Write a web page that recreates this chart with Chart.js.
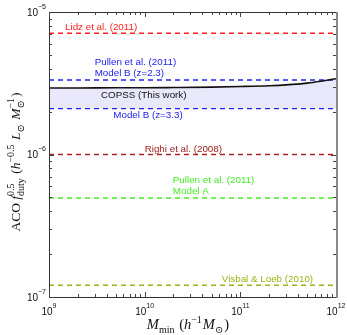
<!DOCTYPE html>
<html>
<head>
<meta charset="utf-8">
<script src="https://cdn.jsdelivr.net/npm/chart.js@4.4.0/dist/chart.umd.min.js"></script>
<style>
html,body{margin:0;padding:0;background:#fff;}
#wrap{width:347px;height:335px;}
</style>
</head>
<body>
<div id="wrap"><canvas id="myChart" width="347" height="335"></canvas></div>
<script>
// minimum halo mass grid and the COPSS constraint along it
var massGrid = [1e9, 2e9, 5e9, 1e10, 2e10, 5e10, 1e11, 2e11, 3e11, 5e11, 7e11, 1e12];
var copssValues = [2.93e-6, 2.93e-6, 2.94e-6, 2.94e-6, 2.95e-6, 2.97e-6, 3.0e-6, 3.04e-6, 3.08e-6, 3.17e-6, 3.27e-6, 3.4e-6];

// model predictions (flat lines)
var modelNames = ['Lidz et al. (2011)', 'Pullen B z=2.3', 'Model B (z=3.3)', 'Righi et al. (2008)', 'Pullen A', 'Visbal & Loeb (2010)'];
var modelValues = [7.1e-6, 3.33e-6, 2.1e-6, 1.0e-6, 4.95e-7, 1.21e-7];
var modelColors = ['#ff2020', '#2222ee', '#2222ee', '#b02222', '#44ee22', '#9cb414'];

// tick labels
var xTickValues = [1e9, 1e10, 1e11, 1e12];
var xTickExp = ['9', '10', '11', '12'];
var yTickValues = [1e-7, 1e-6, 1e-5];
var yTickExp = ['\u22127', '\u22126', '\u22125'];

// annotation texts: lines, colour, x (data) of left edge, offset in px from its line
var notes = [
  {lines: ['Lidz et al. (2011)'], color: '#ff2020', x: 1.47e9, y: 7.1e-6, dy: -6},
  {lines: ['Pullen et al. (2011)', 'Model B (z=2.3)'], color: '#2222ee', x: 3.0e9, y: 3.33e-6, dy: -18},
  {lines: ['COPSS (This work)'], color: '#111111', x: 3.5e9, y: 2.93e-6, dy: 7},
  {lines: ['Model B (z=3.3)'], color: '#2222ee', x: 4.7e9, y: 2.1e-6, dy: 7},
  {lines: ['Righi et al. (2008)'], color: '#a02020', x: 1.0e10, y: 1.0e-6, dy: -5},
  {lines: ['Pullen et al. (2011)', 'Model A'], color: '#44ee22', x: 1.97e10, y: 4.95e-7, dy: -18},
  {lines: ['Visbal & Loeb (2010)'], color: '#9cb414', x: 6.4e10, y: 1.21e-7, dy: -6}
];

function flat(v){ return massGrid.map(function(m){ return {x: m, y: v}; }); }

var datasets = [{
  label: 'COPSS',
  data: massGrid.map(function(m, i){ return {x: m, y: copssValues[i]}; }),
  borderColor: '#111',
  borderWidth: 1.6,
  pointRadius: 0,
  cubicInterpolationMode: 'monotone',
  fill: {target: 3},
  backgroundColor: 'rgba(232,232,250,1)'
}];
for (var i = 0; i < modelNames.length; i++) {
  datasets.push({
    label: modelNames[i],
    data: flat(modelValues[i]),
    borderColor: modelColors[i],
    borderWidth: 1.4,
    borderDash: [5, 4],
    pointRadius: 0,
    fill: false
  });
}

var serif = '"Liberation Serif", "DejaVu Serif", serif';
var sans = '"Liberation Sans", Arial, sans-serif';

// lays out (and optionally draws) a bit of math text, returns width
function mathText(ctx, parts, x, y, size, draw) {
  var small = Math.round(size * 0.72);
  var x0 = x;
  parts.forEach(function(p){
    if (p.sub !== undefined || p.sup !== undefined) {
      var w = 0;
      if (p.sup) {
        ctx.font = small + 'px ' + serif;
        if (draw) ctx.fillText(p.sup, x, y - size * 0.42);
        w = ctx.measureText(p.sup).width;
      }
      if (p.sub) {
        ctx.font = small + 'px ' + serif;
        if (draw) ctx.fillText(p.sub, x, y + size * 0.28);
        w = Math.max(w, ctx.measureText(p.sub).width);
      }
      x += w + 1;
    } else {
      ctx.font = (p.i ? 'italic ' : '') + size + 'px ' + serif;
      if (draw) ctx.fillText(p.t, x, y);
      x += ctx.measureText(p.t).width;
    }
  });
  return x - x0;
}

var xTitle = [{t: 'M', i: true}, {sub: 'min'}, {t: ' ('}, {t: 'h', i: true}, {sup: '\u22121'}, {t: 'M', i: true}, {sub: '\u2299'}, {t: ')'}];
var yTitle = [{t: 'ACO '}, {t: 'f', i: true}, {sup: '0.5', sub: 'duty'}, {t: ' ('}, {t: 'h', i: true}, {sup: '\u22120.5'}, {t: ' '}, {t: 'L', i: true}, {sub: '\u2299'}, {t: ' '}, {t: 'M', i: true}, {sub: '\u2299', sup: '\u22121'}, {t: ')'}];

function powLabel(ctx, exp, cx, cy, align) {
  ctx.font = '10px ' + sans;
  var w1 = ctx.measureText('10').width;
  ctx.font = '7px ' + sans;
  var w2 = ctx.measureText(exp).width;
  var left = align === 'right' ? cx - w1 - w2 : cx - (w1 + w2) / 2;
  ctx.textBaseline = 'middle';
  ctx.textAlign = 'left';
  ctx.font = '10px ' + sans;
  ctx.fillText('10', left, cy);
  ctx.font = '7px ' + sans;
  ctx.fillText(exp, left + w1, cy - 6);
}

var decor = {
  id: 'decor',
  afterDatasetsDraw: function(chart) {
    var ctx = chart.ctx, a = chart.chartArea, sx = chart.scales.x, sy = chart.scales.y;
    ctx.save();
    // annotation texts
    ctx.textBaseline = 'middle';
    ctx.textAlign = 'left';
    ctx.font = '9.8px ' + sans;
    notes.forEach(function(n){
      ctx.fillStyle = n.color;
      var px = sx.getPixelForValue(n.x), py = sy.getPixelForValue(n.y) + n.dy;
      n.lines.forEach(function(l, k){ ctx.fillText(l, px, py + k * 11); });
    });
    // frame
    ctx.strokeStyle = '#333';
    ctx.lineWidth = 1;
    ctx.beginPath();
    ctx.moveTo(a.right, a.top + 0.5); ctx.lineTo(a.left + 0.5, a.top + 0.5);
    ctx.lineTo(a.left + 0.5, a.bottom + 0.5); ctx.lineTo(a.right, a.bottom + 0.5);
    ctx.stroke();
    ctx.strokeStyle = '#8a8a8a';
    ctx.lineWidth = 2;
    ctx.beginPath(); ctx.moveTo(a.right + 1, a.top); ctx.lineTo(a.right + 1, a.bottom + 1); ctx.stroke();
    // inward ticks on all sides
    ctx.strokeStyle = '#444';
    ctx.lineWidth = 1;
    ctx.beginPath();
    for (var e = 9; e < 12; e++) {
      for (var m = 1; m < 10; m++) {
        var px = Math.round(sx.getPixelForValue(m * Math.pow(10, e))) + 0.5;
        var len = m === 1 ? 5 : 3;
        ctx.moveTo(px, a.bottom); ctx.lineTo(px, a.bottom - len);
        ctx.moveTo(px, a.top); ctx.lineTo(px, a.top + len);
      }
    }
    for (var e2 = -7; e2 < -5; e2++) {
      for (var m2 = 1; m2 < 10; m2++) {
        var py = Math.round(sy.getPixelForValue(m2 * Math.pow(10, e2))) + 0.5;
        var len2 = m2 === 1 ? 5 : 3;
        ctx.moveTo(a.left, py); ctx.lineTo(a.left + len2, py);
        ctx.moveTo(a.right, py); ctx.lineTo(a.right - len2, py);
      }
    }
    ctx.stroke();
    // tick labels
    ctx.fillStyle = '#111';
    xTickValues.forEach(function(v, k){ powLabel(ctx, xTickExp[k], sx.getPixelForValue(v), a.bottom + 15, 'center'); });
    yTickValues.forEach(function(v, k){ powLabel(ctx, yTickExp[k], a.left - 3, sy.getPixelForValue(v) + 1, 'right'); });
    // axis titles
    ctx.textBaseline = 'alphabetic';
    ctx.textAlign = 'left';
    var wx = mathText(ctx, xTitle, 0, 0, 14.5, false);
    mathText(ctx, xTitle, 188 - wx / 2, 329, 14.5, true);
    var wy = mathText(ctx, yTitle, 0, 0, 13.5, false);
    ctx.translate(20, 162);
    ctx.rotate(-Math.PI / 2);
    mathText(ctx, yTitle, -wy / 2, 0, 13.5, true);
    ctx.restore();
  }
};

var ctx = document.getElementById('myChart');
var chart = new Chart(ctx, {
  type: 'line',
  data: {datasets: datasets},
  options: {
    responsive: false,
    animation: false,
    layout: {padding: {left: 49, top: 12, right: 11, bottom: 38}},
    plugins: {
      legend: {display: false},
      tooltip: {enabled: false},
      filler: {drawTime: 'beforeDatasetsDraw'}
    },
    scales: {
      x: {type: 'logarithmic', min: 1e9, max: 1e12, display: false},
      y: {type: 'logarithmic', min: 1e-7, max: 1e-5, display: false}
    }
  },
  plugins: [decor]
});
</script>
</body>
</html>
